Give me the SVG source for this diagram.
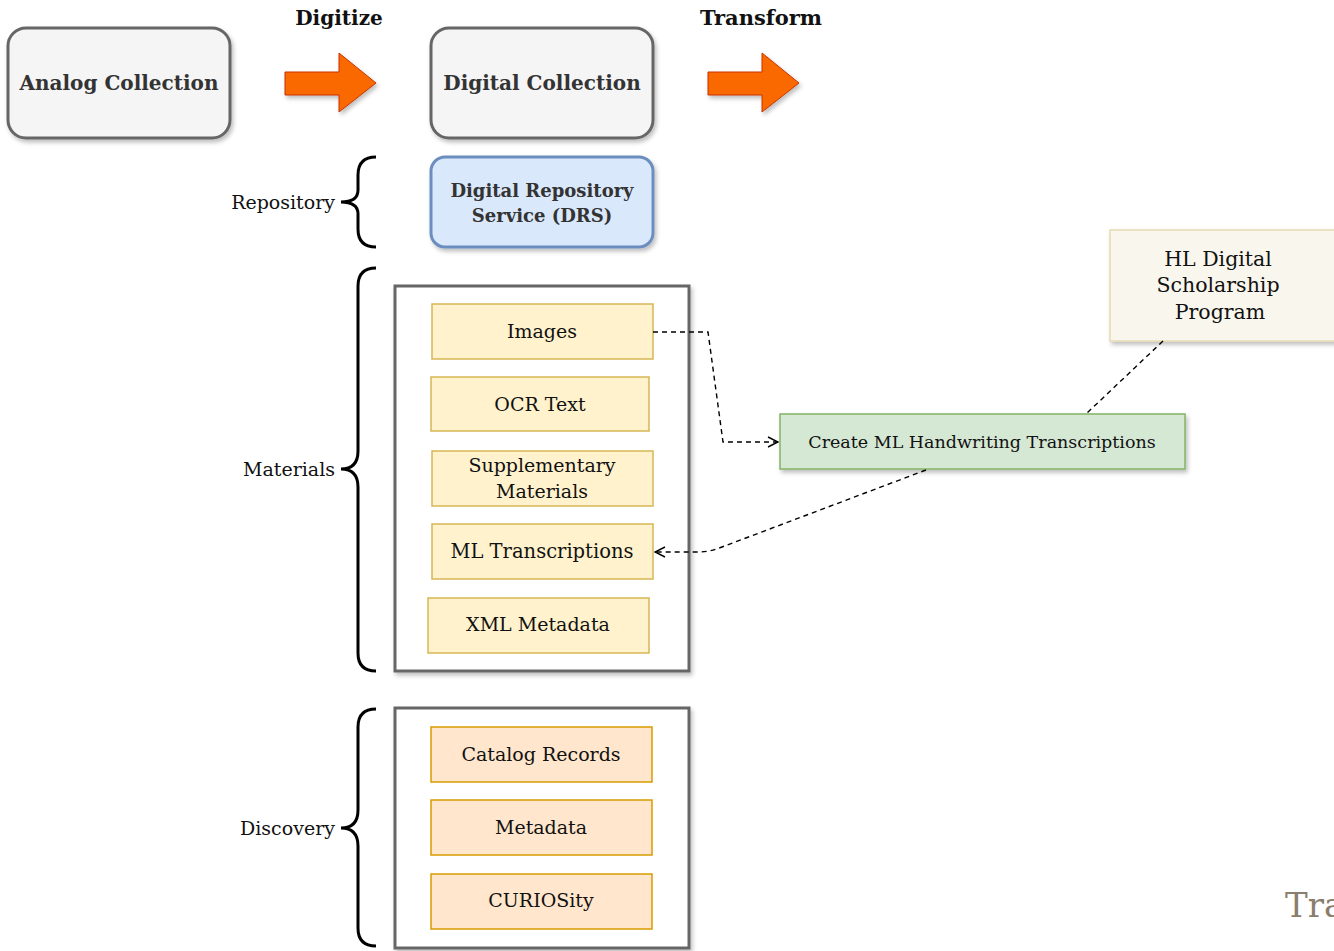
<svg xmlns="http://www.w3.org/2000/svg" width="1334" height="951" viewBox="0 0 1334 951">
  <defs>
    <filter id="shadow" x="-10%" y="-10%" width="130%" height="140%">
      <feDropShadow dx="2" dy="3" stdDeviation="2" flood-color="#000" flood-opacity="0.25"/>
    </filter>
    <marker id="open" viewBox="0 0 12 12" refX="11" refY="6" markerWidth="12" markerHeight="12" markerUnits="userSpaceOnUse" orient="auto">
      <path d="M1,1 L11,6 L1,11" fill="none" stroke="#000" stroke-width="1.4"/>
    </marker>
  </defs>
  <style>
    text { font-family: "DejaVu Serif", "Liberation Serif", serif; fill: #111; }
    .bold { font-weight: bold; }
    .title { font-size: 20px; font-weight: bold; fill: #333; }
    .lbl { font-size: 19px; text-anchor: end; }
    .c { text-anchor: middle; font-size: 19px; }
    .coll { fill: #f5f5f5; stroke: #666; stroke-width: 3; }
    .drs { fill: #dae8fc; stroke: #6c8ebf; stroke-width: 3; }
    .frame { fill: #fff; stroke: #666; stroke-width: 3; }
    .mat { fill: #fff2cc; stroke: #d6b656; stroke-width: 1.5; }
    .disc { fill: #ffe6cc; stroke: #d79b00; stroke-width: 1.5; }
    .ml { fill: #d5e8d4; stroke: #82b366; stroke-width: 1.5; }
    .hl { fill: #f9f7ed; stroke: #e6dcb4; stroke-width: 1.5; }
    .big { fill: #fa6800; stroke: #c73500; stroke-width: 1; }
    .brace { fill: none; stroke: #000; stroke-width: 3; }
    .dash { fill: none; stroke: #000; stroke-width: 1.4; stroke-dasharray: 5 4; }
  </style>

  <!-- top row -->
  <g id="analog">
    <rect class="coll" x="8" y="28" width="222" height="110" rx="18" filter="url(#shadow)"/>
    <text class="title" x="119" y="90" text-anchor="middle">Analog Collection</text>
  </g>
  <g id="digitize">
    <text class="bold" x="339" y="25" text-anchor="middle" style="font-size:20px">Digitize</text>
    <path class="big" d="M285,72 L339,72 L339,53 L376,83 L339,112 L339,95 L285,95 Z" filter="url(#shadow)"/>
  </g>
  <g id="digital">
    <rect class="coll" x="431" y="28" width="222" height="110" rx="18" filter="url(#shadow)"/>
    <text class="title" x="542" y="90" text-anchor="middle">Digital Collection</text>
  </g>
  <g id="transform">
    <text class="bold" x="761" y="25" text-anchor="middle" style="font-size:21px">Transform</text>
    <path class="big" d="M708,72 L762,72 L762,53 L799,83 L762,112 L762,95 L708,95 Z" filter="url(#shadow)"/>
  </g>

  <!-- repository -->
  <g id="repository-label">
    <text class="lbl" x="335" y="209">Repository</text>
    <path class="brace" d="M376,157 Q358,157 358,175 L358,190 Q358,202 341,202 Q358,202 358,214 L358,229 Q358,247 376,247"/>
  </g>
  <g id="drs">
    <rect class="drs" x="431" y="157" width="222" height="90" rx="14" filter="url(#shadow)"/>
    <text class="title" x="542" y="197" text-anchor="middle" style="font-size:18px">Digital Repository</text>
    <text class="title" x="542" y="222" text-anchor="middle" style="font-size:18px">Service (DRS)</text>
  </g>

  <!-- materials -->
  <g id="materials-label">
    <text class="lbl" x="335" y="476">Materials</text>
    <path class="brace" d="M376,268 Q358,268 358,286 L358,451 Q358,469 341,469 Q358,469 358,487 L358,653 Q358,671 376,671"/>
  </g>
  <g id="materials">
    <rect class="frame" x="395" y="286" width="294" height="385" filter="url(#shadow)"/>
    <g id="images">
      <rect class="mat" x="432" y="304" width="221" height="55"/>
      <text class="c" x="542" y="338">Images</text>
    </g>
    <g id="ocr">
      <rect class="mat" x="431" y="377" width="218" height="54"/>
      <text class="c" x="540" y="411">OCR Text</text>
    </g>
    <g id="supplementary">
      <rect class="mat" x="432" y="451" width="221" height="55"/>
      <text class="c" x="542" y="472">Supplementary</text>
      <text class="c" x="542" y="498">Materials</text>
    </g>
    <g id="ml-transcriptions">
      <rect class="mat" x="432" y="524" width="221" height="55"/>
      <text class="c" x="542" y="558" style="font-size:19.5px">ML Transcriptions</text>
    </g>
    <g id="xml-metadata">
      <rect class="mat" x="428" y="598" width="221" height="55"/>
      <text class="c" x="538" y="631">XML Metadata</text>
    </g>
  </g>

  <!-- discovery -->
  <g id="discovery-label">
    <text class="lbl" x="335" y="835">Discovery</text>
    <path class="brace" d="M376,709 Q358,709 358,727 L358,810 Q358,828 341,828 Q358,828 358,846 L358,928 Q358,946 376,946"/>
  </g>
  <g id="discovery">
    <rect class="frame" x="395" y="708" width="294" height="240" filter="url(#shadow)"/>
    <g id="catalog">
      <rect class="disc" x="431" y="727" width="221" height="55"/>
      <text class="c" x="541" y="761">Catalog Records</text>
    </g>
    <g id="metadata">
      <rect class="disc" x="431" y="800" width="221" height="55"/>
      <text class="c" x="541" y="834">Metadata</text>
    </g>
    <g id="curiosity">
      <rect class="disc" x="431" y="874" width="221" height="55"/>
      <text class="c" x="541" y="907">CURIOSity</text>
    </g>
  </g>

  <!-- transformation nodes -->
  <g id="create-ml">
    <rect class="ml" x="780" y="414" width="405" height="55" filter="url(#shadow)"/>
    <text class="c" x="982" y="448" style="font-size:17.5px">Create ML Handwriting Transcriptions</text>
  </g>
  <g id="hl-program">
    <rect class="hl" x="1110" y="230" width="230" height="111" filter="url(#shadow)"/>
    <text class="c" x="1218" y="266" style="font-size:20.5px">HL Digital</text>
    <text class="c" x="1218" y="292" style="font-size:20.5px">Scholarship</text>
    <text class="c" x="1220" y="319" style="font-size:20.5px">Program</text>
  </g>

  <!-- connectors -->
  <g id="connectors">
    <path class="dash" d="M653,332 L708,332 L723,442 L778,442" marker-end="url(#open)"/>
    <path class="dash" d="M926,470 L722,547 Q710,552 698,552 L655,552" marker-end="url(#open)"/>
    <path class="dash" d="M1163,341 L1086,414"/>
  </g>

  <!-- page caption running off the right edge -->
  <text x="1285" y="917" style="font-size:34px;fill:#8a7e6e">Tra</text>
</svg>
